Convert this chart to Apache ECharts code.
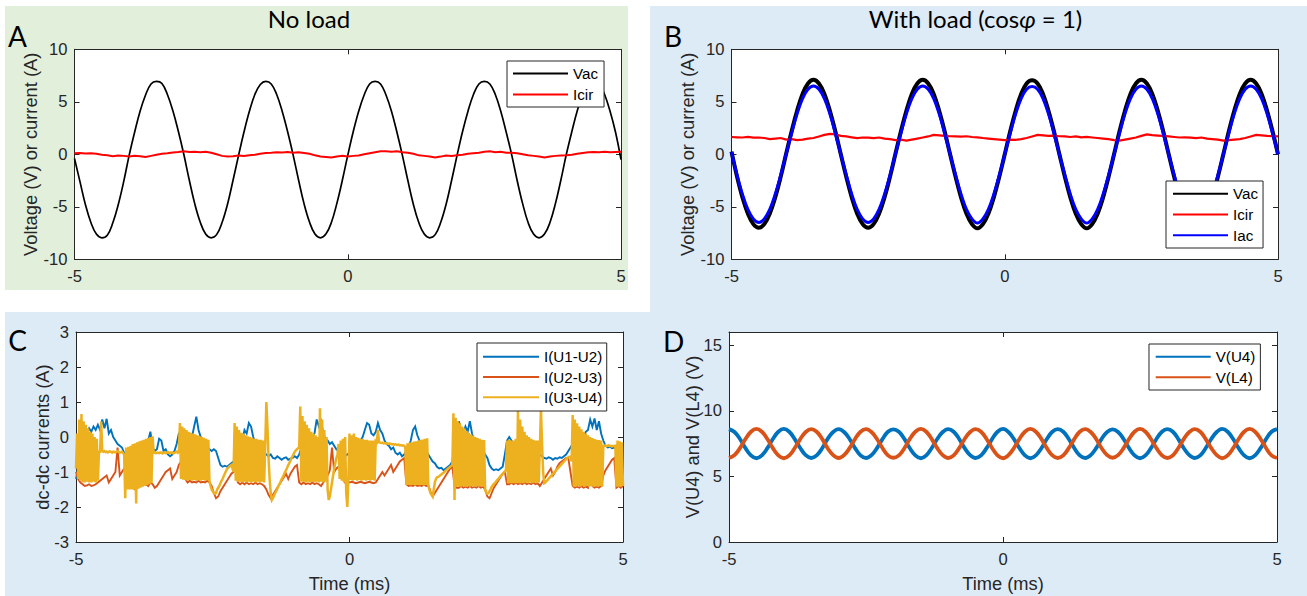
<!DOCTYPE html>
<html><head><meta charset="utf-8">
<script src="https://cdn.jsdelivr.net/npm/echarts@6.0.0/dist/echarts.min.js"></script>
<style>html,body{margin:0;padding:0;background:#fff}#chart{width:1307px;height:596px}</style>
</head><body><div id="chart"></div>
<script>
// ---------- data (time axis in ms, starting at T0) ----------
const T0 = -5;
const DT_SLOW = 0.1;   // A, B, D sample step (ms)
const DT_MID = 0.04;   // C: I(U1-U2), I(U2-U3)
const DT_FAST = 0.02;  // C: I(U3-U4)
const xTicks = [-5, 0, 5];

// Panel A (no load)
const vacA = [
 -0.4,-2.6,-4.8,-6.5,-7.6,-7.95,-7.7,-6.55,-4.8,-2.6,
 -0.1,2.1,4.1,5.65,6.7,6.95,6.75,5.7,4.15,2.2,
 0.0,-2.45,-4.7,-6.45,-7.6,-7.95,-7.65,-6.5,-4.75,-2.5,
 -0.15,2.1,4.1,5.7,6.65,6.95,6.7,5.7,4.1,2.15,
 -0.05,-2.45,-4.7,-6.45,-7.6,-7.95,-7.6,-6.5,-4.7,-2.5,
 -0.1,2.15,4.1,5.65,6.7,6.95,6.7,5.65,4.1,2.1,
 -0.1,-2.5,-4.75,-6.5,-7.6,-7.95,-7.65,-6.5,-4.75,-2.5,
 -0.1,2.15,4.1,5.7,6.7,6.95,6.7,5.7,4.1,2.1,
 -0.05,-2.5,-4.7,-6.5,-7.6,-7.95,-7.6,-6.5,-4.7,-2.45,
 0.0,2.15,4.15,5.7,6.7,6.95,6.7,5.7,4.1,2.1,
 -0.5];
const icirA = [
 0.1,0.12,0.08,0.1,0.05,-0.05,-0.1,-0.18,-0.12,-0.15,
 -0.2,-0.15,-0.18,-0.25,-0.15,-0.05,0.05,0.1,0.18,0.22,
 0.3,0.22,0.25,0.2,0.25,0.15,0.0,-0.15,-0.22,-0.18,
 -0.12,-0.15,-0.1,-0.05,0.05,0.12,0.15,0.2,0.18,0.22,
 0.15,0.2,0.12,0.05,-0.1,-0.2,-0.25,-0.3,-0.2,-0.15,
 -0.2,-0.15,-0.12,0.0,0.1,0.2,0.3,0.28,0.25,0.3,
 0.2,0.15,0.05,-0.1,-0.15,-0.2,-0.3,-0.22,-0.12,-0.15,
 -0.1,-0.05,0.05,0.1,0.15,0.25,0.3,0.2,0.25,0.15,
 0.15,0.1,0.0,-0.1,-0.15,-0.2,-0.3,-0.22,-0.15,-0.12,
 -0.1,-0.05,0.05,0.12,0.2,0.22,0.2,0.25,0.2,0.22,
 0.25];

// Panel B (with load)
const vacB = [
 0.25,-2.1,-4.1,-5.65,-6.65,-7.0,-6.65,-5.65,-4.1,-2.15,
 0.05,2.2,4.15,5.75,6.75,7.1,6.75,5.75,4.15,2.2,
 0.0,-2.15,-4.1,-5.65,-6.65,-7.0,-6.65,-5.65,-4.1,-2.15,
 0.05,2.2,4.15,5.75,6.75,7.1,6.75,5.75,4.15,2.2,
 0.0,-2.15,-4.1,-5.65,-6.65,-7.05,-6.65,-5.65,-4.1,-2.15,
 0.0,2.2,4.15,5.75,6.75,7.05,6.75,5.75,4.15,2.2,
 0.0,-2.15,-4.1,-5.65,-6.65,-7.05,-6.65,-5.65,-4.1,-2.15,
 0.0,2.2,4.15,5.75,6.75,7.1,6.75,5.75,4.15,2.2,
 0.0,-2.15,-4.1,-5.65,-6.65,-7.0,-6.65,-5.65,-4.1,-2.15,
 0.0,2.2,4.15,5.75,6.75,7.1,6.75,5.75,4.15,2.2,
 0.0];
const icirB = [
 1.65,1.62,1.6,1.65,1.58,1.6,1.55,1.45,1.5,1.55,
 1.4,1.45,1.35,1.4,1.5,1.55,1.7,1.85,1.95,1.9,
 1.75,1.7,1.62,1.55,1.6,1.58,1.55,1.6,1.5,1.45,
 1.35,1.4,1.3,1.4,1.5,1.6,1.7,1.85,1.8,1.75,
 1.72,1.7,1.68,1.72,1.65,1.62,1.55,1.5,1.45,1.4,
 1.35,1.4,1.38,1.45,1.55,1.7,1.85,1.8,1.75,1.78,
 1.72,1.7,1.65,1.7,1.62,1.65,1.6,1.55,1.5,1.45,
 1.35,1.3,1.4,1.5,1.6,1.75,1.9,1.82,1.78,1.75,
 1.7,1.65,1.6,1.62,1.58,1.55,1.6,1.5,1.45,1.4,
 1.3,1.35,1.4,1.45,1.55,1.7,1.85,1.8,1.75,1.72,
 1.7];
const iacB = [
 0.2,-1.95,-3.8,-5.25,-6.15,-6.5,-6.15,-5.25,-3.8,-2.0,
 0.05,2.0,3.85,5.3,6.2,6.5,6.2,5.3,3.85,2.0,
 0.0,-1.95,-3.8,-5.25,-6.15,-6.5,-6.15,-5.25,-3.8,-2.0,
 0.05,2.0,3.85,5.3,6.2,6.5,6.2,5.3,3.85,2.0,
 0.0,-1.95,-3.8,-5.25,-6.15,-6.55,-6.15,-5.25,-3.8,-2.0,
 0.0,2.0,3.85,5.3,6.2,6.45,6.2,5.3,3.85,2.0,
 0.0,-1.95,-3.8,-5.25,-6.15,-6.55,-6.15,-5.25,-3.8,-2.0,
 0.0,2.0,3.85,5.3,6.2,6.5,6.2,5.3,3.85,2.0,
 0.0,-1.95,-3.8,-5.25,-6.15,-6.5,-6.15,-5.25,-3.8,-2.0,
 0.0,2.0,3.85,5.3,6.2,6.5,6.2,5.3,3.85,2.0,
 0.0];

// Panel C (dc-dc currents)
const iU1U2 = [
 -1.2,-0.9,-0.5,-0.2,0.0,0.1,0.25,0.15,0.3,0.2,0.35,0.2,0.5,0.25,0.52,0.1,0.2,0.0,-0.1,-0.2,-0.25,-0.3,-0.45,-0.5,-0.55,
 -0.5,-0.55,-0.45,-0.5,-0.6,-0.4,-0.35,-0.3,-0.1,0.15,-0.3,-0.4,-0.35,-0.05,-0.1,-0.4,-0.35,-0.5,-0.55,-0.5,-0.4,-0.2,0.1,0.15,0.2,
 0.1,0.0,-0.1,0.0,0.3,0.58,0.2,0.0,-0.1,-0.2,-0.3,-0.35,-0.4,-0.35,-0.4,-0.6,-0.8,-0.85,-0.82,-0.85,-0.8,-0.75,-0.7,-0.6,-0.4,
 -0.3,-0.1,0.2,0.1,0.4,0.3,0.0,-0.2,-0.3,-0.35,-0.4,-0.45,-0.5,-0.55,-0.5,-0.6,-0.62,-0.55,-0.6,-0.65,-0.6,-0.58,-0.65,-0.62,-0.6,
 -0.55,-0.6,-0.5,-0.3,-0.2,-0.1,-0.15,-0.1,0.0,0.1,0.5,0.3,0.45,0.1,-0.05,-0.1,-0.2,-0.15,-0.25,-0.35,-0.4,-0.5,-0.45,-0.55,-0.5,
 -0.45,-0.4,-0.3,-0.25,-0.2,-0.1,0.0,0.2,0.4,0.35,0.1,0.05,0.15,0.4,0.2,0.1,-0.1,-0.2,-0.25,-0.35,-0.3,-0.45,-0.5,-0.45,-0.55,
 -0.5,-0.4,-0.3,-0.1,0.2,0.3,0.05,-0.1,-0.2,-0.3,-0.4,-0.5,-0.6,-0.7,-0.75,-0.85,-0.9,-0.88,-0.95,-0.9,-0.85,-0.8,-0.7,-0.3,0.1,
 0.45,0.2,0.1,0.3,0.15,0.45,0.1,-0.1,-0.2,-0.3,-0.35,-0.4,-0.5,-0.6,-0.8,-0.9,-0.95,-0.92,-0.95,-0.9,-0.85,-0.5,-0.1,0.0,-0.1,
 -0.2,-0.3,-0.2,-0.1,-0.3,-0.35,-0.4,-0.45,-0.5,-0.45,-0.5,-0.55,-0.5,-0.55,-0.6,-0.62,-0.58,-0.6,-0.65,-0.6,-0.62,-0.58,-0.6,-0.55,-0.5,
 -0.4,-0.3,-0.2,-0.1,0.0,-0.1,0.1,0.0,0.15,0.2,0.5,0.3,0.53,0.2,0.45,0.1,-0.1,-0.25,-0.3,-0.28,-0.32,-0.3,-0.35,-0.4,-0.38,
 -0.35];
const iU2U3 = [
 -1.0,-1.2,-1.3,-1.35,-1.4,-1.38,-1.35,-1.4,-1.38,-1.35,-1.3,-1.25,-1.2,-1.15,-1.1,-1.3,-1.2,-1.1,-1.0,-0.3,-1.1,-1.0,-0.9,-0.8,-1.2,
 -1.4,-1.45,-1.5,-1.45,-1.4,-0.3,-1.3,-1.35,-1.4,-1.3,-1.35,-1.45,-1.4,-1.3,-1.2,-1.1,-1.0,-0.95,-0.9,-1.2,-1.1,-1.0,-0.8,-0.7,-0.6,
 -1.2,-1.3,-1.25,-1.3,-1.28,-1.3,-1.25,-1.3,-1.28,-1.3,-1.25,-1.3,-1.4,-1.6,-1.75,-1.7,-1.55,-1.45,-1.35,-1.25,-1.15,-1.05,-1.0,-0.95,-1.3,
 -1.35,-1.3,-1.35,-1.3,-1.35,-1.32,-1.35,-1.3,-1.35,-1.32,-1.35,-1.4,-1.5,-1.65,-1.75,-1.65,-1.55,-1.45,-1.35,-1.25,-1.15,-1.05,-1.2,-1.05,-0.95,
 -0.85,-0.8,-1.3,-1.35,-1.3,-1.35,-1.32,-1.35,-1.3,-1.35,-1.32,-1.35,-1.4,-1.3,-1.2,-1.1,-0.95,-0.3,-1.0,-0.9,-0.85,-0.8,-1.2,-1.3,-1.25,
 -1.3,-1.28,-1.3,-1.32,-1.3,-1.28,-1.3,-1.32,-1.3,-1.28,-1.3,-1.32,-1.3,-1.2,-1.1,-1.0,-1.1,-1.0,-0.9,-0.8,-1.0,-0.9,-0.8,-0.7,-0.65,
 -0.6,-1.35,-1.4,-1.38,-1.4,-1.35,-1.4,-1.38,-1.4,-1.35,-1.4,-1.38,-1.55,-1.7,-1.6,-1.5,-1.4,-1.3,-1.2,-1.1,-1.0,-0.9,-0.85,-1.4,-1.45,
 -1.45,-1.4,-1.45,-1.42,-1.45,-1.4,-1.45,-1.42,-1.45,-1.4,-1.45,-1.42,-1.5,-1.7,-1.75,-1.6,-1.45,-1.35,-1.25,-1.15,-1.05,-1.0,-1.35,-1.35,-1.3,
 -1.35,-1.3,-1.35,-1.32,-1.35,-1.3,-1.35,-1.32,-1.35,-1.3,-1.35,-1.32,-1.4,-1.3,-1.2,-1.1,-1.0,-0.9,-1.1,-1.0,-0.85,-0.75,-0.7,-0.65,-0.6,
 -0.6,-1.0,-1.4,-1.45,-1.42,-1.45,-1.4,-1.45,-1.42,-1.45,-0.3,-1.4,-1.45,-1.42,-1.45,-1.4,-1.1,-0.95,-0.85,-0.75,-0.65,-0.6,-1.45,-1.4,-1.45,
 -1.4];
const iU3U4 = [
 -0.9,0.1,-1.2,0.5,-1.25,0.66,-1.3,0.45,-1.3,0.35,-1.28,0.25,-1.3,0.15,-1.3,0.1,-1.28,0.0,-1.3,-0.05,-1.25,-0.42,-0.42,0.44,-0.4,
 -0.42,-0.4,-0.43,-0.42,-0.44,-0.42,-0.41,-0.43,-0.45,-0.42,-0.43,-0.44,-0.42,-0.4,-0.43,-0.45,-0.44,-0.42,-0.45,-0.5,-1.75,-0.3,-1.5,-0.28,-1.5,
 -0.25,-1.5,-0.2,-1.5,-0.18,-1.9,-0.15,-1.48,-0.12,-1.45,-0.1,-1.42,-0.08,-1.4,-0.05,-1.38,-0.02,-1.35,0.0,-1.32,0.02,-0.45,-0.44,-0.46,-0.45,
 -0.45,-0.46,-0.44,-0.45,-0.47,-0.45,-0.44,-0.46,-0.45,-0.43,-0.45,-0.46,-0.44,-0.45,-0.47,-0.45,-0.44,-0.42,-0.45,-0.4,0.4,-1.2,0.3,-1.22,0.25,
 -1.23,0.2,-1.25,0.15,-1.23,0.12,-1.25,0.1,-1.23,0.08,-1.25,0.05,-1.24,0.02,-1.25,0.0,-1.23,-0.02,-1.25,-0.05,-1.24,-0.08,-1.25,-1.4,-1.5,
 -1.55,-1.6,-1.62,-1.6,-1.5,-1.45,-1.4,-1.32,-1.25,-1.2,-1.12,-1.05,-0.98,-0.92,-0.88,-0.85,-0.82,-0.8,-0.9,-1.0,0.4,-1.25,0.3,-1.28,0.2,
 -1.28,0.12,-1.3,0.1,-1.28,0.05,-1.3,0.02,-1.28,0.0,-1.3,-0.02,-1.28,-0.05,-1.3,-0.05,-1.28,-0.08,-1.3,-0.08,-1.28,-0.1,-1.3,-0.2,1.0,
 0.3,-0.6,-1.2,-1.6,-1.8,-1.75,-1.68,-1.6,-1.55,-1.48,-1.4,-1.35,-1.28,-1.2,-1.15,-1.08,-1.0,-0.95,-0.88,-0.8,-0.75,-0.68,-0.6,-0.55,-0.48,
 -0.42,-0.38,-0.35,-0.32,-0.3,0.87,-1.28,0.6,-1.28,0.45,-1.3,0.35,-1.28,0.25,-1.3,0.15,-1.28,0.1,-1.3,0.05,-1.28,0.0,-1.3,0.82,-1.28,
 0.5,-1.3,0.2,-1.28,0.0,-1.5,-1.8,-1.7,-1.5,-1.3,-1.1,-0.9,-0.75,-0.6,-0.5,-0.2,-1.2,-0.1,-1.25,-0.05,-1.3,0.0,-1.6,-2.0,-1.2,
 0.1,-1.23,0.05,-1.25,0.1,-1.23,0.0,-1.25,-0.02,-1.23,-0.05,-1.25,-0.05,-1.23,-0.08,-1.25,-0.08,-1.23,-0.1,-1.25,-0.1,-1.23,-0.1,-1.25,-0.12,
 -0.15,0.2,-0.15,-0.16,-0.17,-0.16,-0.18,-0.17,-0.18,-0.19,-0.18,-0.2,-0.19,-0.2,-0.21,-0.2,-0.22,-0.21,-0.22,-0.23,-0.22,-0.24,-0.23,-0.25,-0.24,
 -0.25,-0.3,-1.37,-0.18,-1.37,-0.16,-1.38,-0.15,-1.37,-0.13,-1.38,-0.12,-1.37,-0.1,-1.38,-0.08,-1.37,-0.07,-1.38,-0.05,-1.37,-0.04,-1.38,-1.5,-1.6,
 -1.65,-1.7,-1.5,-1.3,-1.2,-1.15,-1.14,-1.12,-1.09,-1.07,-1.04,-1.02,-0.99,-0.96,-0.93,-0.9,-0.88,-0.85,-0.83,-0.8,0.68,-1.8,0.55,-1.42,0.45,
 -1.42,0.39,-1.42,0.3,-1.4,0.25,-1.42,0.18,-1.4,0.12,-1.42,0.08,-1.4,0.04,-1.42,0.0,-1.4,-0.03,-1.42,-0.05,-1.4,-0.08,-1.42,-0.09,-1.5,
 -1.6,-1.62,-1.6,-1.55,-1.5,-1.42,-1.38,-1.34,-1.31,-1.27,-1.23,-1.2,-1.16,-1.12,-1.09,-1.05,-1.02,-0.98,-0.95,-0.1,-1.32,-0.08,-1.32,-0.1,-1.32,
 -0.1,-1.32,-0.05,-1.32,0.77,-1.32,0.5,-1.32,0.3,-1.32,0.15,-1.3,0.05,-1.32,0.0,-1.3,-0.05,-1.32,-0.08,-1.3,-0.1,-1.32,-0.1,-1.3,-0.3,
 0.82,-0.2,-1.0,-1.32,-1.3,-1.26,-1.23,-1.19,-1.16,-1.12,-1.09,-1.05,-1.02,-0.98,-0.95,-0.91,-0.88,-0.84,-0.81,-0.77,-0.74,-0.7,-0.67,-0.63,-0.6,
 -0.58,-0.56,-0.55,-0.7,0.63,-1.42,0.5,-1.42,0.39,-1.4,0.3,-1.42,0.22,-1.4,0.15,-1.42,0.1,-1.4,0.05,-1.42,0.0,-1.4,-0.03,-1.42,-0.06,
 -1.4,-0.08,-1.42,-0.09,-1.4,-0.1,-1.42,-0.25,-0.25,-0.24,-0.26,-0.25,-0.24,-0.26,-0.25,-0.27,-0.25,-0.26,-0.25,-1.42,-0.1,-1.42,-0.12,-1.42,-0.15,
 -1.4];

// Panel D
const vU4 = [
 8.6,8.38,7.85,7.15,6.6,6.38,6.6,7.15,7.85,8.4,
 8.62,8.4,7.84,7.16,6.62,6.4,6.6,7.14,7.86,8.38,
 8.6,8.38,7.85,7.15,6.6,6.4,6.62,7.15,7.84,8.4,
 8.58,8.4,7.86,7.14,6.6,6.38,6.6,7.16,7.85,8.38,
 8.6,8.4,7.85,7.15,6.62,6.4,6.6,7.15,7.84,8.4,
 8.62,8.38,7.84,7.15,6.6,6.38,6.6,7.14,7.85,8.4,
 8.6,8.4,7.85,7.16,6.6,6.4,6.62,7.15,7.86,8.38,
 8.58,8.38,7.85,7.15,6.6,6.38,6.6,7.15,7.85,8.4,
 8.6,8.4,7.84,7.14,6.62,6.4,6.6,7.16,7.85,8.38,
 8.62,8.4,7.85,7.15,6.6,6.38,6.6,7.15,7.84,8.4,
 8.6];
const vL4 = [
 6.4,6.62,7.15,7.85,8.4,8.62,8.4,7.85,7.15,6.6,
 6.38,6.6,7.16,7.84,8.38,8.6,8.4,7.86,7.14,6.62,
 6.4,6.62,7.15,7.85,8.4,8.6,8.38,7.85,7.16,6.6,
 6.42,6.6,7.14,7.86,8.4,8.62,8.4,7.84,7.15,6.62,
 6.4,6.6,7.15,7.85,8.38,8.6,8.4,7.85,7.16,6.6,
 6.38,6.62,7.16,7.85,8.4,8.62,8.4,7.86,7.15,6.6,
 6.4,6.6,7.15,7.84,8.4,8.6,8.38,7.85,7.14,6.62,
 6.42,6.62,7.15,7.85,8.4,8.62,8.4,7.85,7.15,6.6,
 6.4,6.6,7.16,7.86,8.38,8.6,8.4,7.84,7.15,6.62,
 6.38,6.6,7.15,7.85,8.4,8.62,8.4,7.85,7.16,6.6,
 6.4];

// ---------- chart ----------
const SANS = "'Liberation Sans', Arial, Helvetica, sans-serif";
const TITLE_FONT = "Lato, 'Noto Sans', sans-serif";
const TXT = '#262626';
const GREEN = '#E2EFDA', BLUE = '#DDEBF7';

function xy(vals, dt) { return vals.map((v, i) => [Math.round((T0 + i * dt) * 1000) / 1000, v]); }

const grids = [
  { left: 74.5, top: 49.3, width: 546.5, height: 210 },
  { left: 731.5, top: 49.3, width: 546.5, height: 210 },
  { left: 76, top: 332, width: 547, height: 210 },
  { left: 729, top: 332, width: 548, height: 210 }
].map(g => Object.assign({ show: true, backgroundColor: '#fff', borderWidth: 0, containLabel: false, outerBoundsMode: 'none' }, g));

const axisLine = { show: true, onZero: false, lineStyle: { color: TXT, width: 1 } };
const axisTick = { show: true, inside: true, length: 5, lineStyle: { color: TXT, width: 1 } };
const tickText = { color: TXT, fontSize: 16.6, fontFamily: SANS };
const nameText = { color: TXT, fontSize: 18.3, fontFamily: SANS };

const yCfg = [
  { min: -10, max: 10, interval: 5, name: 'Voltage (V) or current (A)', gap: 35 },
  { min: -10, max: 10, interval: 5, name: 'Voltage (V) or current (A)', gap: 35 },
  { min: -3, max: 3, interval: 1, name: 'dc-dc currents (A)', gap: 25 },
  { min: 0, max: 16, interval: 5, name: 'V(U4) and V(L4) (V)', gap: 28 }
];
const xNames = ['', '', 'Time (ms)', 'Time (ms)'];

const xAxis = [], yAxis = [];
for (let g = 0; g < 4; g++) {
  const base = { type: 'value', gridIndex: g, min: xTicks[0], max: xTicks[xTicks.length - 1], interval: 5,
    axisLine, axisTick, splitLine: { show: false } };
  xAxis.push(Object.assign({}, base, { position: 'bottom',
    axisLabel: Object.assign({ show: true, margin: 9, showMinLabel: true, showMaxLabel: true }, tickText),
    name: xNames[g], nameLocation: 'middle', nameGap: 32, nameTextStyle: nameText, nameMoveOverlap: false }));
  xAxis.push(Object.assign({}, base, { position: 'top', axisLabel: { show: false } }));
  const c = yCfg[g];
  const ybase = { type: 'value', gridIndex: g, min: c.min, max: c.max, interval: c.interval,
    axisLine, axisTick, splitLine: { show: false } };
  yAxis.push(Object.assign({}, ybase, { position: 'left',
    axisLabel: Object.assign({ show: true, margin: 7, showMinLabel: true, showMaxLabel: g !== 3 }, tickText),
    name: c.name, nameLocation: 'middle', nameGap: c.gap, nameTextStyle: nameText, nameMoveOverlap: false }));
  yAxis.push(Object.assign({}, ybase, { position: 'right', axisLabel: { show: false } }));
}

function line(name, vals, dt, g, color, width, smooth) {
  return { type: 'line', name, data: xy(vals, dt), xAxisIndex: 2 * g, yAxisIndex: 2 * g,
    symbol: 'none', showSymbol: false, smooth: smooth ? 0.4 : false, animation: false,
    color, lineStyle: { color, width, join: 'miter' }, emphasis: { disabled: true }, silent: true };
}

const series = [
  line('A|Vac', vacA, DT_SLOW, 0, '#000000', 1.7, true),
  line('A|Icir', icirA, DT_SLOW, 0, '#FF0000', 2, false),
  line('B|Vac', vacB, DT_SLOW, 1, '#000000', 4, true),
  line('B|Icir', icirB, DT_SLOW, 1, '#FF0000', 2.2, false),
  line('B|Iac', iacB, DT_SLOW, 1, '#0000FF', 3, true),
  line('C|I(U1-U2)', iU1U2, DT_MID, 2, '#0072BD', 1.9, false),
  line('C|I(U2-U3)', iU2U3, DT_MID, 2, '#D95319', 1.9, false),
  line('C|I(U3-U4)', iU3U4, DT_FAST, 2, '#EDB120', 2.5, false),
  line('D|V(U4)', vU4, DT_SLOW, 3, '#0072BD', 3.8, true),
  line('D|V(L4)', vL4, DT_SLOW, 3, '#D95319', 3.8, true)
];

function legend(names, left, top, itemWidth, gap, pad) {
  return { show: true, orient: 'vertical', left, top, data: names, formatter: n => n.split('|')[1],
    icon: 'rect', itemWidth, itemHeight: 2, itemGap: gap, padding: pad, selectedMode: false,
    backgroundColor: '#fff', borderColor: TXT, borderWidth: 1, borderRadius: 0,
    textStyle: { color: '#000', fontSize: 15.2, fontFamily: SANS, lineHeight: 17 } };
}

const legends = [
  legend(['A|Vac', 'A|Icir'], 507, 61, 55, 4, [4, 6, 4, 6]),
  legend(['B|Vac', 'B|Icir', 'B|Iac'], 1166, 181, 55, 3.7, [4.3, 5, 4.3, 7]),
  legend(['C|I(U1-U2)', 'C|I(U2-U3)', 'C|I(U3-U4)'], 477, 343, 56, 3.3, [5.2, 4.5, 5.2, 6]),
  legend(['D|V(U4)', 'D|V(L4)'], 1149, 344, 55, 3.6, [4.2, 5, 4.2, 6.7])
];

function label(text, x, y, size) {
  return { type: 'text', z: 10, silent: true,
    style: { text, x, y, align: 'center', verticalAlign: 'middle', textAlign: 'center', textVerticalAlign: 'middle',
      fontSize: size, fontFamily: TITLE_FONT, fill: '#000' } };
}

const graphic = { elements: [
  { type: 'rect', z: -10, silent: true, shape: { x: 5, y: 6, width: 623, height: 284 }, style: { fill: GREEN } },
  { type: 'rect', z: -10, silent: true, shape: { x: 650, y: 6, width: 657, height: 306 }, style: { fill: BLUE } },
  { type: 'rect', z: -10, silent: true, shape: { x: 5, y: 312, width: 1302, height: 284 }, style: { fill: BLUE } },
  label('No load', 309, 18.5, 24),
  { type: 'text', z: 10, silent: true,
    style: { text: '{n|With load (cos}{i|φ}{n| = 1)}', x: 975.5, y: 18.5,
      align: 'center', verticalAlign: 'middle', textAlign: 'center', textVerticalAlign: 'middle', fill: '#000',
      rich: { n: { fontSize: 24, fontFamily: TITLE_FONT, fill: '#000' },
              i: { fontSize: 24, fontFamily: TITLE_FONT, fontStyle: 'italic', fill: '#000' } } } },
  label('A', 17.5, 35.5, 28),
  label('B', 673, 35.5, 28),
  label('C', 17.6, 340, 28),
  label('D', 673.6, 340.5, 28)
] };

const chart = echarts.init(document.getElementById('chart'), null, { renderer: 'svg', width: 1307, height: 596 });
chart.setOption({
  backgroundColor: '#ffffff',
  animation: false,
  grid: grids,
  xAxis, yAxis,
  legend: legends,
  graphic,
  series
});
</script>
</body></html>
